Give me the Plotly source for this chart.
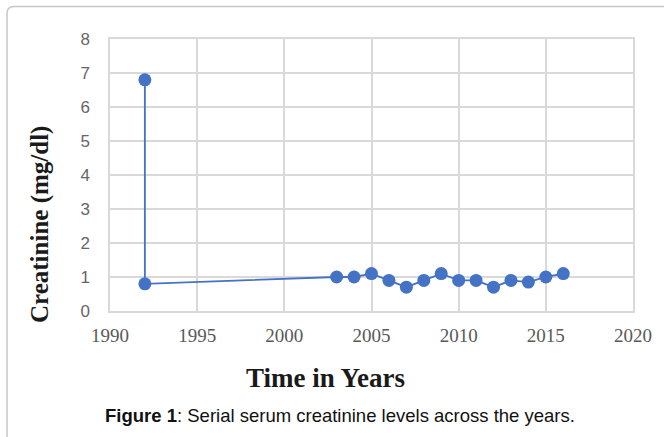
import plotly.graph_objects as go

years = [1992, 1992, 2003, 2004, 2005, 2006, 2007, 2008, 2009, 2010, 2011, 2012, 2013, 2014, 2015, 2016]
creatinine = [6.8, 0.8, 1.0, 1.0, 1.1, 0.9, 0.7, 0.9, 1.1, 0.9, 0.9, 0.7, 0.9, 0.85, 1.0, 1.1]
x_ticks = [1990, 1995, 2000, 2005, 2010, 2015, 2020]
y_ticks = [0, 1, 2, 3, 4, 5, 6, 7, 8]

blue = "#4472C4"

fig = go.Figure()
fig.add_trace(go.Scatter(
    x=years, y=creatinine, mode="lines+markers",
    line=dict(color=blue, width=1.8),
    marker=dict(color=blue, size=13),
    showlegend=False,
))

W, H = 664, 437
L, R, T, B = 110, 31, 39, 126
pw, ph = W - L - R, H - T - B
dx = lambda px: (px - L) / pw
dy = lambda py: 1 - (py - T) / ph

fig.update_layout(
    width=W, height=H,
    margin=dict(l=L, r=R, t=T, b=B, autoexpand=False),
    paper_bgcolor="white", plot_bgcolor="white",
    xaxis=dict(
        range=[1990, 2020], tickvals=x_ticks, ticktext=[str(v) for v in x_ticks],
        showgrid=True, gridcolor="#d9d9d9", gridwidth=1.5,
        zeroline=False, showline=True, linecolor="#d9d9d9", linewidth=1.5, mirror=True,
        tickfont=dict(family="Liberation Serif", size=19, color="#595959"),
        ticks="", ticklabelstandoff=6,
    ),
    yaxis=dict(
        range=[0, 8], tickvals=y_ticks,
        showgrid=True, gridcolor="#d9d9d9", gridwidth=1.5,
        zeroline=False, showline=True, linecolor="#d9d9d9", linewidth=1.5, mirror=True,
        tickfont=dict(family="Liberation Sans", size=17, color="#666666"),
        ticks="", ticklabelstandoff=15,
    ),
)

# frame with rounded top-left corner (extends beyond right/bottom edges)
x0, y0, r = 7, 6.5, 7
path = (f"M {dx(x0)} {dy(H + 20)} L {dx(x0)} {dy(y0 + r)} "
        f"Q {dx(x0)} {dy(y0)} {dx(x0 + r)} {dy(y0)} L {dx(W + 20)} {dy(y0)}")
fig.add_shape(type="path", path=path, xref="x domain", yref="y domain",
              line=dict(color="#c8c8c8", width=1.5))

fig.add_annotation(
    text="<b>Creatinine (mg/dl)</b>", textangle=-90,
    xref="x domain", yref="y domain", x=dx(40), y=dy(225),
    showarrow=False, xanchor="center", yanchor="middle",
    font=dict(family="Liberation Serif", size=25, color="#1a1a1a"),
)
fig.add_annotation(
    text="<b>Time in Years</b>",
    xref="x domain", yref="y domain", x=dx(325), y=dy(378),
    showarrow=False, xanchor="center", yanchor="middle",
    font=dict(family="Liberation Serif", size=27, color="#1a1a1a"),
)
fig.add_annotation(
    text="<b>Figure 1</b>: Serial serum creatinine levels across the years.",
    xref="x domain", yref="y domain", x=dx(340), y=dy(415),
    showarrow=False, xanchor="center", yanchor="middle",
    font=dict(family="Liberation Sans", size=18.5, color="#111111"),
)

fig.write_html("out.html", config={"displayModeBar": False},
               post_script="document.body.style.margin='0';")
